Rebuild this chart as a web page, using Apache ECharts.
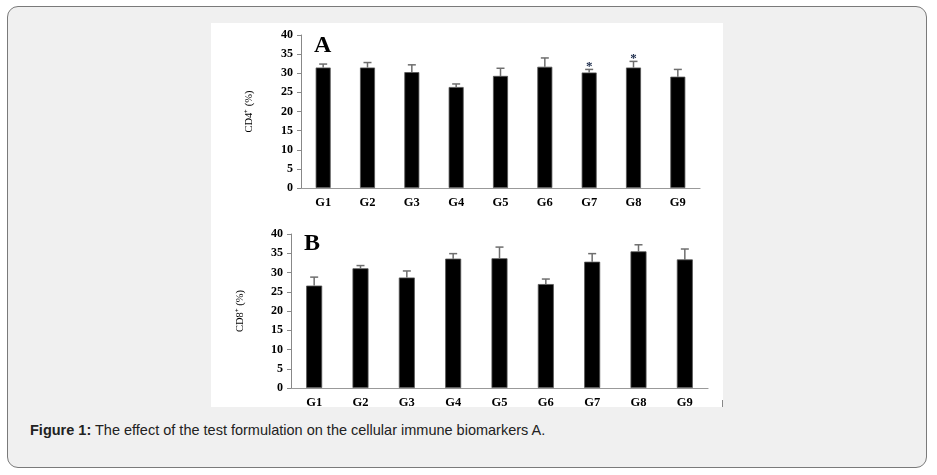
<!DOCTYPE html>
<html>
<head>
<meta charset="utf-8">
<script src="https://cdn.jsdelivr.net/npm/echarts@6/dist/echarts.min.js"></script>
<style>
  html, body { margin:0; padding:0; width:937px; height:475px; background:#fff; overflow:hidden; }
  #box { position:absolute; left:7px; top:6px; width:920px; height:462px; background:#f0f0f0;
         border:1px solid #7a7a7a; border-radius:11px; box-sizing:border-box; }
  #white { position:absolute; left:211px; top:23px; width:512px; height:384px; background:#fff; }
  #mark { position:absolute; left:722px; top:400px; width:1px; height:7px; background:#888; }
  #caption { position:absolute; left:30px; top:422px; font-family:"Liberation Sans", Arial, sans-serif;
             font-size:14.5px; color:#222; white-space:nowrap; }
  #chart { position:absolute; left:0; top:0; width:937px; height:475px; }
</style>
</head>
<body>
<div id="box"></div>
<div id="white"></div>
<div id="mark"></div>
<div id="caption"><b>Figure 1:</b> The effect of the test formulation on the cellular immune biomarkers A.</div>
<div id="chart"></div>
<script>
const categories = ['G1','G2','G3','G4','G5','G6','G7','G8','G9'];
const yTicks = [0,5,10,15,20,25,30,35,40];
const cd4Mean = [31.5, 31.5, 30.3, 26.4, 29.3, 31.7, 30.2, 31.5, 29.1];
const cd4Err  = [0.9, 1.3, 1.9, 0.8, 2.0, 2.3, 0.8, 1.6, 1.9];
const cd4Sig  = ['', '', '', '', '', '', '*', '*', ''];
const cd8Mean = [26.6, 31.1, 28.7, 33.6, 33.7, 27.0, 32.8, 35.5, 33.4];
const cd8Err  = [2.2, 0.7, 1.7, 1.3, 2.9, 1.3, 2.1, 1.7, 2.7];
const cd8Sig  = ['', '', '', '', '', '', '', '', ''];

const serif = '"Liberation Serif", "Times New Roman", serif';

function errData(mean, err) {
  return categories.map((c, i) => [i, mean[i], mean[i] + err[i]]);
}

function makeErrRender(sigArr) {
  return function (params, api) {
    const base = api.coord([api.value(0), api.value(1)]);
    const top = api.coord([api.value(0), api.value(2)]);
    const sig = sigArr[params.dataIndex];
    const children = [
      { type:'line', shape:{ x1:base[0], y1:base[1], x2:top[0], y2:top[1] },
        style:{ stroke:'#6e6e6e', lineWidth:1.5 } },
      { type:'line', shape:{ x1:top[0]-4, y1:top[1], x2:top[0]+4, y2:top[1] },
        style:{ stroke:'#6e6e6e', lineWidth:1.5 } }
    ];
    if (sig) {
      children.push({ type:'text', style:{ text:sig, x:top[0], y:top[1]-3, align:'center',
        verticalAlign:'middle', font:'bold 13px ' + serif, fill:'#1a2a4a' } });
    }
    return { type:'group', children };
  };
}

function yAxis(gridIndex, name, gap) {
  return {
    type:'value', gridIndex, min:0, max:40, interval:5,
    name, nameLocation:'middle', nameGap:gap, nameRotate:90,
    nameTextStyle:{ fontFamily:serif, fontSize:10.5, color:'#000' },
    axisLine:{ show:true, lineStyle:{ color:'#888', width:1 } },
    axisTick:{ show:true, length:4, inside:false, lineStyle:{ color:'#888' } },
    axisLabel:{ fontFamily:serif, fontWeight:'bold', fontSize:12, color:'#000', margin:8,
      formatter: v => yTicks.includes(v) ? String(v) : '' },
    splitLine:{ show:false }
  };
}

function xAxis(gridIndex) {
  return {
    type:'category', gridIndex, data:categories,
    axisLine:{ show:true, lineStyle:{ color:'#999', width:1.2 } },
    axisTick:{ show:false },
    axisLabel:{ fontFamily:serif, fontWeight:'bold', fontSize:12.5, color:'#000', margin:8 }
  };
}

const chart = echarts.init(document.getElementById('chart'), null, { renderer:'canvas' });
chart.setOption({
  backgroundColor:'transparent',
  animation:false,
  grid:[
    { left:301, top:35, width:399, height:153 },
    { left:291, top:234, width:417, height:154 }
  ],
  xAxis:[ xAxis(0), xAxis(1) ],
  yAxis:[ yAxis(0, 'CD4⁺ (%)', 46), yAxis(1, 'CD8⁺ (%)', 45) ],
  graphic:[
    { type:'text', left:314, top:34, style:{ text:'A', font:'bold 24px ' + serif, fill:'#000' } },
    { type:'text', left:304, top:232, style:{ text:'B', font:'bold 24px ' + serif, fill:'#000' } }
  ],
  series:[
    { type:'bar', xAxisIndex:0, yAxisIndex:0, data:cd4Mean, barWidth:15,
      itemStyle:{ color:'#000', borderColor:'#555', borderWidth:0.8 } },
    { type:'custom', xAxisIndex:0, yAxisIndex:0, data:errData(cd4Mean, cd4Err),
      renderItem: makeErrRender(cd4Sig), z:1 },
    { type:'bar', xAxisIndex:1, yAxisIndex:1, data:cd8Mean, barWidth:16,
      itemStyle:{ color:'#000', borderColor:'#555', borderWidth:0.8 } },
    { type:'custom', xAxisIndex:1, yAxisIndex:1, data:errData(cd8Mean, cd8Err),
      renderItem: makeErrRender(cd8Sig), z:1 }
  ]
});
</script>
</body>
</html>
